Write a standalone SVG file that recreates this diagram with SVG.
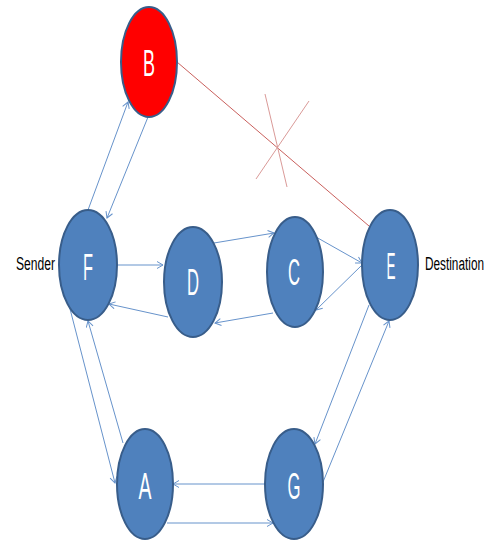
<svg xmlns="http://www.w3.org/2000/svg" width="491" height="540" viewBox="0 0 491 540">
<style>
.node{fill:#4F81BD;stroke:#385D8A;stroke-width:2}
.bad{fill:#FF0000;stroke:#385D8A;stroke-width:2}
.lbl{font-family:"Liberation Sans",Arial,sans-serif;font-size:36px;fill:#FFFFFF;text-anchor:middle}
.side{font-family:"Liberation Sans",Arial,sans-serif;font-size:18px;fill:#000000}
.edge{stroke:#6793CB;stroke-width:1;fill:none;marker-end:url(#arr)}
.red{stroke:#C9605D;stroke-width:1;fill:none}
.cross{stroke:#DA9A98;stroke-width:1;fill:none}
</style>
<defs>
<marker id="arr" markerUnits="userSpaceOnUse" markerWidth="10" markerHeight="10" refX="7" refY="4" orient="auto">
<path d="M1,0.5 L7,4 L1,7.5" fill="none" stroke="#6793CB" stroke-width="1"/>
</marker>
</defs>
<g id="connectors">
<line class="red" x1="177" y1="62" x2="369" y2="226"/>
<line class="cross" x1="265" y1="94" x2="287" y2="187"/>
<line class="cross" x1="309" y1="101" x2="256" y2="179"/>
<line class="edge" x1="88" y1="210" x2="128" y2="102"/>
<line class="edge" x1="148" y1="117" x2="107" y2="218"/>
<line class="edge" x1="117" y1="265" x2="163" y2="265"/>
<line class="edge" x1="214" y1="243" x2="274" y2="233"/>
<line class="edge" x1="316" y1="237" x2="362" y2="263"/>
<line class="edge" x1="362" y1="265" x2="316" y2="310"/>
<line class="edge" x1="273" y1="313" x2="215" y2="323"/>
<line class="edge" x1="168" y1="317" x2="109" y2="304"/>
<line class="edge" x1="69" y1="305" x2="115" y2="483"/>
<line class="edge" x1="123" y1="443" x2="88" y2="321"/>
<line class="edge" x1="265" y1="484" x2="173" y2="484"/>
<line class="edge" x1="167" y1="523" x2="273" y2="523"/>
<line class="edge" x1="369" y1="305" x2="315" y2="444"/>
<line class="edge" x1="323" y1="482" x2="389" y2="321"/>
</g>
<g id="node-B"><ellipse class="bad" cx="149" cy="62" rx="28" ry="55"/><text class="lbl" x="149" y="76" textLength="12" lengthAdjust="spacingAndGlyphs">B</text></g>
<g id="node-F"><ellipse class="node" cx="88" cy="265" rx="29" ry="55"/><text class="lbl" x="88" y="280" textLength="10" lengthAdjust="spacingAndGlyphs">F</text></g>
<g id="node-D"><ellipse class="node" cx="193" cy="282" rx="29" ry="55"/><text class="lbl" x="193" y="295" textLength="12" lengthAdjust="spacingAndGlyphs">D</text></g>
<g id="node-C"><ellipse class="node" cx="295" cy="272" rx="28" ry="55"/><text class="lbl" x="294" y="285" textLength="12" lengthAdjust="spacingAndGlyphs">C</text></g>
<g id="node-E"><ellipse class="node" cx="390" cy="265" rx="28" ry="55"/><text class="lbl" x="391" y="279" textLength="9" lengthAdjust="spacingAndGlyphs">E</text></g>
<g id="node-A"><ellipse class="node" cx="145" cy="484" rx="28" ry="55"/><text class="lbl" x="145" y="499" textLength="13" lengthAdjust="spacingAndGlyphs">A</text></g>
<g id="node-G"><ellipse class="node" cx="294" cy="484" rx="29" ry="55"/><text class="lbl" x="294" y="499" textLength="13" lengthAdjust="spacingAndGlyphs">G</text></g>
<g id="labels">
<text class="side" x="16" y="270" textLength="39" lengthAdjust="spacingAndGlyphs">Sender</text>
<text class="side" x="425" y="270" textLength="59" lengthAdjust="spacingAndGlyphs">Destination</text>
</g>
</svg>
